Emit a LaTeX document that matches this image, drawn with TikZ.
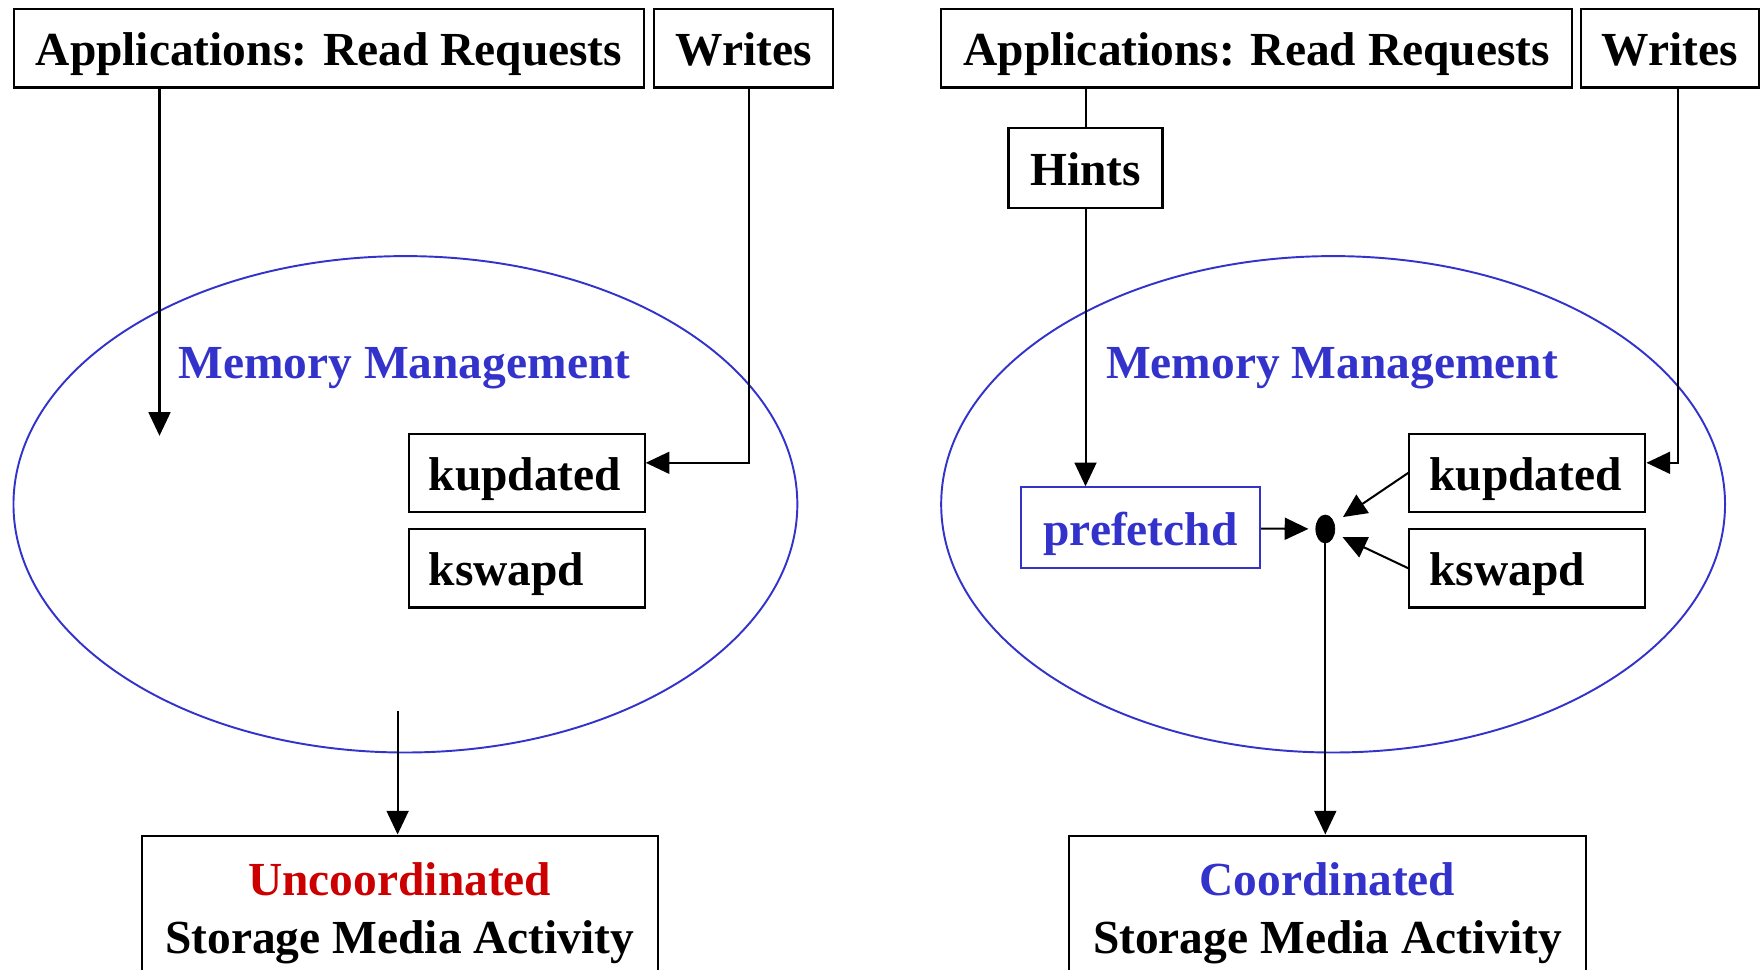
\documentclass[tikz,border=0pt]{standalone}
\usepackage{fontspec}
\setmainfont{Liberation Serif}
\usetikzlibrary{arrows.meta,shapes.geometric}
\definecolor{mmblue}{HTML}{3333CC}
\definecolor{uncred}{HTML}{CC0000}

\begin{document}
\begin{tikzpicture}[x=0.02cm,y=-0.02cm,font=\fontsize{27}{33}\selectfont\bfseries,
  txt/.style={text height=0.7cm,text depth=0pt},
  box/.style={draw,txt,line width=1.2pt,inner sep=0pt,minimum height=1.57cm},
  dbox/.style={box,text width=3.92cm,inner xsep=0.4cm,align=left,minimum width=4.72cm},
  ring/.style={draw=mmblue,line width=1.1pt,ellipse,inner sep=0pt,minimum width=15.68cm,minimum height=9.93cm},
  outbox/.style={draw,line width=1.2pt,anchor=north,align=center,inner ysep=0.54cm,text depth=3cm,minimum width=10.33cm},
  conn/.style={line width=1.15pt},
  arr/.style={conn,-{Triangle[length=13.5pt,width=12.5pt]}}]
\useasboundingbox (0,0) rectangle (1761,970);
% uncoordinated side
\node[ring] (ringL) at (405.4,504.3) {};
\node[box,minimum width=12.62cm] (appL) at (329.0,48.3) {Applications: Read Requests};
\node[box,minimum width=3.59cm] (wrL) at (743.5,48.3) {Writes};
\node[txt,mmblue] (mmL) at (404.3,360.5) {Memory Management};
\node[dbox] (kupL) at (526.7,472.8) {kupdated};
\node[dbox] (kswL) at (526.7,568.3) {kswapd};
\node[outbox] (outL) at (399.8,834.5) {\textcolor{uncred}{Uncoordinated}\\Storage Media Activity};
\coordinate (rdL) at (159.5,435.8);
\coordinate (mgL) at (397.6,711);
\draw[arr] (appL.south -| rdL) -- (rdL);
\draw[arr] ([xshift=0.11cm]wrL.south) |- ([yshift=0.2cm]kupL.east);
\draw[arr] (mgL) -- (mgL |- outL.north);
% coordinated side
\node[ring] (ringR) at (1333.1,504.3) {};
\node[box,minimum width=12.62cm] (appR) at (1256.8,48.3) {Applications: Read Requests};
\node[box,minimum width=3.55cm] (wrR) at (1670,48.3) {Writes};
\node[box,minimum width=3.08cm,minimum height=1.6cm] (hint) at (1085.5,167.9) {Hints};
\node[txt,mmblue] (mmR) at (1332,360.5) {Memory Management};
\node[box,draw=mmblue,text=mmblue,minimum width=4.78cm,minimum height=1.62cm] (pref) at (1140.5,527.8) {prefetchd};
\node[dbox] (kupR) at (1527.4,472.8) {kupdated};
\node[dbox] (kswR) at (1527.4,568.3) {kswapd};
\node[draw,fill,ellipse,inner sep=0pt,minimum width=0.38cm,minimum height=0.56cm] (merge) at (1325.3,529) {};
\node[outbox] (outR) at (1327.5,834.5) {\textcolor{mmblue}{Coordinated}\\Storage Media Activity};
\draw[conn] (appR.south -| hint) -- (hint);
\draw[arr] (hint) -- (hint |- pref.north);
\draw[arr,shorten >=4pt] (pref) -- (merge);
\draw[arr,shorten >=6pt] (kupR.west) -- (merge);
\draw[arr,shorten >=5pt] (kswR.west) -- (merge);
\draw[arr] ([xshift=0.16cm]wrR.south) |- ([yshift=0.2cm]kupR.east);
\draw[arr] (merge) -- (merge |- outR.north);
\end{tikzpicture}
\end{document}
